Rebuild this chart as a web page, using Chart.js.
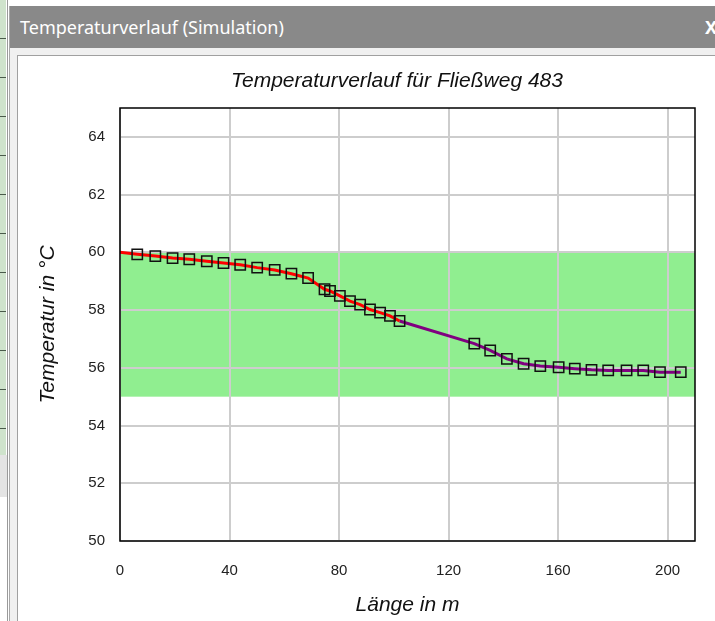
<!DOCTYPE html>
<html>
<head>
<meta charset="utf-8">
<script src="https://cdn.jsdelivr.net/npm/chart.js@4"></script>
<style>
  body { margin: 0; width: 715px; height: 621px; overflow: hidden; background: #fff; position: relative; font-family: "Noto Sans", sans-serif; }
  #seite { position: absolute; left: 0; top: 0; width: 6px; height: 455px; background: #cfe3cc;
           background-image: repeating-linear-gradient(to bottom, transparent 0 38px, #4a5a4a 38px 39px); }
  #seite2 { position: absolute; left: 0; top: 455px; width: 7px; height: 42px; background: #e4e4e4; }
  #linie1 { position: absolute; left: 7px; top: 0; width: 1px; height: 621px; background: #9a9a9a; }
  #fenster { position: absolute; left: 9px; top: 6px; width: 720px; height: 640px; background: #f0f0f0; border-left: 1px solid #a8a8a8; }
  #titel { position: absolute; left: 0; top: 0; width: 100%; height: 42px; background: #898989; color: #fff;
           font-size: 18px; line-height: 42px; padding-left: 10px; box-sizing: border-box; }
  #schliessen { position: absolute; left: 695px; top: 0; color: #fff; font-weight: bold; font-size: 18px; line-height: 42px; }
  #panel { position: absolute; left: 7px; top: 49px; width: 720px; height: 600px; background: #fff; border: 1px solid #a0a0a0; }
  #chart { position: absolute; left: 18px; top: 56px; }
</style>
</head>
<body>
<div id="seite"></div>
<div id="seite2"></div>
<div id="linie1"></div>
<div id="fenster">
  <div id="titel">Temperaturverlauf (Simulation)</div>
  <div id="schliessen">X</div>
  <div id="panel"></div>
</div>
<canvas id="chart" width="758" height="565"></canvas>
<script>
// Messpunkte (Länge in m / Temperatur in °C)
const laenge = [6.3, 12.9, 19.2, 25.3, 31.7, 37.8, 43.9, 50.1, 56.5, 62.6, 68.7, 74.7, 76.7, 80.3, 84.0, 87.7, 91.3, 95.0, 98.6, 102.1,
  129.4, 135.2, 141.3, 147.4, 153.5, 160.2, 166.1, 172.2, 178.3, 185.0, 191.1, 197.2, 204.8];
const temperatur = [59.93, 59.87, 59.80, 59.76, 59.69, 59.63, 59.57, 59.47, 59.39, 59.26, 59.11, 58.72, 58.66, 58.49, 58.31, 58.19, 58.02, 57.91, 57.80, 57.62,
  56.84, 56.60, 56.31, 56.14, 56.06, 56.02, 55.97, 55.93, 55.91, 55.91, 55.91, 55.85, 55.85];
// Startpunkt des Fließwegs und Grenze zwischen rotem und violettem Abschnitt
const startLaenge = 0;
const startTemp = 60;
const grenzeLaenge = 102.1;
// zulässiger Temperaturbereich (grünes Band)
const bereichMin = 55;
const bereichMax = 60;
// Achsen
const xTicks = [0, 40, 80, 120, 160, 200];
const yTicks = [50, 52, 54, 56, 58, 60, 62, 64];

const punkte = laenge.map((x, i) => ({ x: x, y: temperatur[i] }));
const rot = [{ x: startLaenge, y: startTemp }].concat(punkte.filter(p => p.x <= grenzeLaenge));
const violett = punkte.filter(p => p.x >= grenzeLaenge);

const schrift = "Arial, 'Liberation Sans', sans-serif";

// Grünes Band hinter den Gitterlinien
const bandPlugin = {
  id: "band",
  beforeDraw(chart) {
    const { ctx, chartArea, scales } = chart;
    const y1 = scales.y.getPixelForValue(bereichMax);
    const y2 = scales.y.getPixelForValue(bereichMin);
    ctx.save();
    ctx.fillStyle = "#90ee90";
    ctx.fillRect(chartArea.left, y1, chartArea.right - chartArea.left, y2 - y1);
    ctx.restore();
  },
};

// Rahmen um den Plotbereich
const rahmenPlugin = {
  id: "rahmen",
  afterDraw(chart) {
    const { ctx, chartArea } = chart;
    ctx.save();
    ctx.strokeStyle = "#000";
    ctx.lineWidth = 1.5;
    ctx.strokeRect(chartArea.left, chartArea.top, chartArea.right - chartArea.left, chartArea.bottom - chartArea.top);
    ctx.restore();
  },
};

new Chart(document.getElementById("chart"), {
  type: "scatter",
  data: {
    datasets: [
      {
        label: "Messpunkte",
        data: punkte,
        showLine: false,
        pointStyle: "rect",
        pointRadius: 7.3,
        pointBorderColor: "#111",
        pointBorderWidth: 1.5,
        pointBackgroundColor: "rgba(0,0,0,0)",
      },
      {
        label: "Abschnitt 1",
        data: rot,
        showLine: true,
        borderColor: "#ff0000",
        borderWidth: 3,
        pointRadius: 0,
        tension: 0,
      },
      {
        label: "Abschnitt 2",
        data: violett,
        showLine: true,
        borderColor: "#800080",
        borderWidth: 3,
        pointRadius: 0,
        tension: 0,
      },
    ],
  },
  options: {
    responsive: false,
    animation: false,
    layout: { padding: 0 },
    plugins: {
      legend: { display: false },
      tooltip: { enabled: false },
      title: {
        display: true,
        text: "Temperaturverlauf für Fließweg 483",
        color: "#111",
        font: { family: schrift, size: 21, style: "italic", weight: "normal", lineHeight: 1.2 },
        padding: { top: 12.5, bottom: 14.3 },
      },
    },
    scales: {
      x: {
        type: "linear",
        min: 0,
        max: 210,
        afterBuildTicks: (s) => { s.ticks = xTicks.map(v => ({ value: v })); },
        afterFit: (s) => { s.height = 80; },
        ticks: { color: "#222", padding: 21, font: { family: schrift, size: 15 } },
        grid: { color: "#cdcdcd", lineWidth: 2, drawTicks: false },
        border: { display: false },
        title: {
          display: true,
          text: "Länge in m",
          color: "#111",
          font: { family: schrift, size: 21, style: "italic", lineHeight: 1.2 },
          padding: { top: 0, bottom: 3.5 },
        },
      },
      y: {
        type: "linear",
        min: 50,
        max: 65,
        afterBuildTicks: (s) => { s.ticks = yTicks.map(v => ({ value: v })); },
        afterFit: (s) => { s.width = 102; },
        ticks: { color: "#222", padding: 15, font: { family: schrift, size: 15 } },
        grid: { color: "#cdcdcd", lineWidth: 2, drawTicks: false },
        border: { display: false },
        title: {
          display: true,
          text: "Temperatur in °C",
          color: "#111",
          font: { family: schrift, size: 21, style: "italic", lineHeight: 1.2 },
          padding: { top: 17.5, bottom: 0 },
        },
      },
      // leere Achse rechts, nur als Abstand zum Fensterrand
      rechts: {
        type: "linear",
        position: "right",
        min: 50,
        max: 65,
        afterFit: (s) => { s.width = 81; },
        ticks: { display: false },
        grid: { display: false },
        border: { display: false },
      },
    },
  },
  plugins: [bandPlugin, rahmenPlugin],
});
</script>
</body>
</html>
